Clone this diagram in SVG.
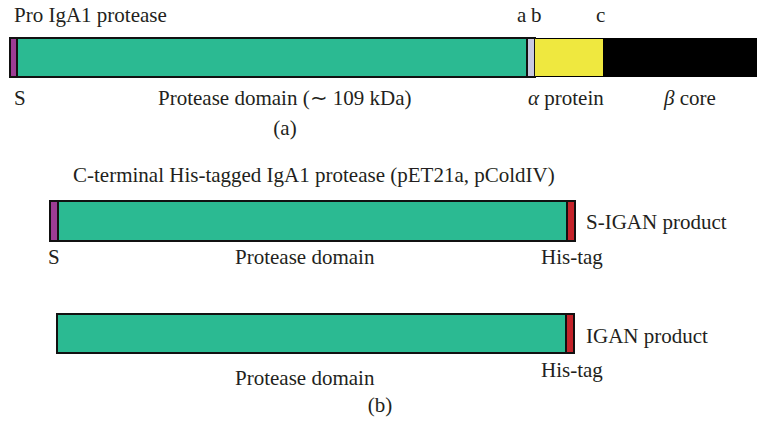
<svg xmlns="http://www.w3.org/2000/svg" width="757" height="427" viewBox="0 0 757 427">
<style>
text{font-family:"Liberation Serif","Times New Roman",serif;font-size:21px;fill:#231f20}
.bar{stroke:#111;stroke-width:2}
.g{fill:#2bba92}.p{fill:#9c3c94}.l{fill:#c9c9e0}.y{fill:#efe83f}.k{fill:#000}.r{fill:#c4232a}
</style>
<rect width="757" height="427" fill="#fff"/>
<g id="proIgA1">
<text x="14" y="22">Pro IgA1 protease</text>
<text x="517" y="22">a</text><text x="531" y="22">b</text><text x="596" y="22">c</text>
<rect class="k" x="10" y="38" width="747" height="39"/>
<rect class="p bar" x="10" y="38" width="7" height="39"/>
<rect class="g bar" x="17" y="38" width="510" height="39"/>
<rect class="l bar" x="527" y="38" width="8" height="39"/>
<rect class="y" x="535" y="39" width="68" height="37"/>
<text x="14" y="105">S</text>
<text x="158" y="105">Protease domain (∼ 109 kDa)</text>
<text x="528" y="105"><tspan font-style="italic">α</tspan> protein</text>
<text x="664" y="105"><tspan font-style="italic">β</tspan> core</text>
<text x="285" y="135" text-anchor="middle">(a)</text>
</g>
<g id="sigan">
<text x="73" y="182">C-terminal His-tagged IgA1 protease (pET21a, pColdIV)</text>
<rect class="p bar" x="50" y="201" width="8" height="40"/>
<rect class="g bar" x="58" y="201" width="509" height="40"/>
<rect class="r bar" x="567" y="201" width="8" height="40"/>
<text x="586" y="229">S-IGAN product</text>
<text x="48" y="264">S</text>
<text x="235" y="264">Protease domain</text>
<text x="541" y="264">His-tag</text>
</g>
<g id="igan">
<rect class="g bar" x="57" y="314" width="509" height="39"/>
<rect class="r bar" x="566" y="314" width="8" height="39"/>
<text x="586" y="343">IGAN product</text>
<text x="541" y="377">His-tag</text>
<text x="235" y="385">Protease domain</text>
<text x="380" y="412" text-anchor="middle">(b)</text>
</g>
</svg>
